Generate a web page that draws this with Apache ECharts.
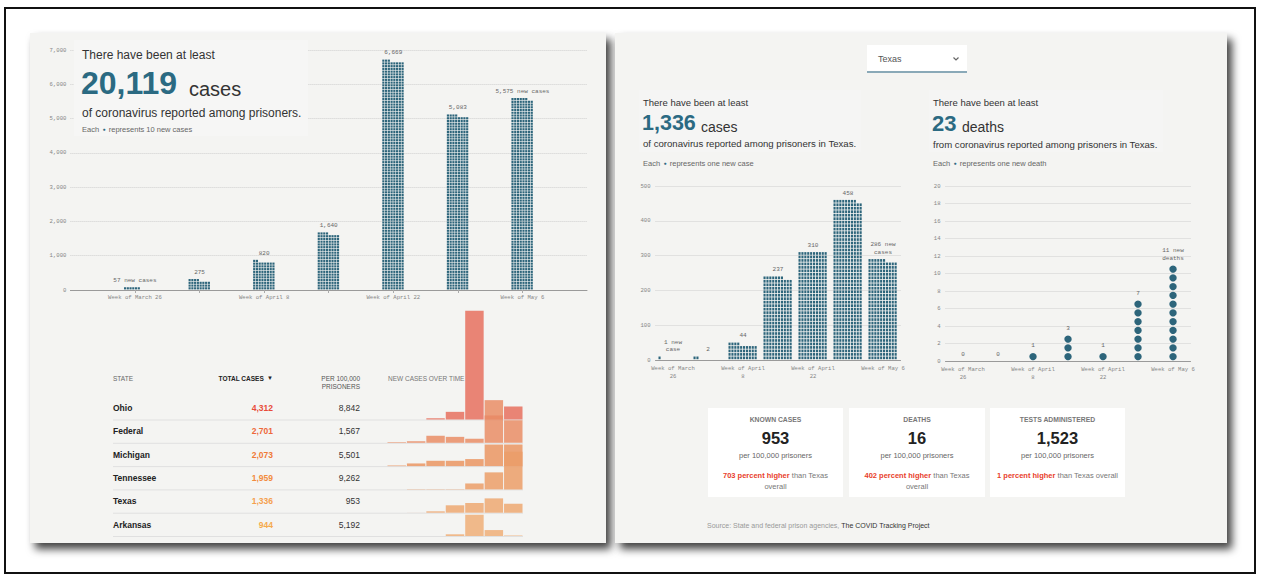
<!DOCTYPE html>
<html><head><meta charset="utf-8">
<script src="https://cdn.jsdelivr.net/npm/echarts@6/dist/echarts.min.js"></script>
<style>html,body{margin:0;padding:0;background:#fff;}#c{width:1261px;height:579px;}</style>
</head><body><div id="c"></div>
<script>
// ---------------- DATA ----------------
const weeks = ['Week of March 26','Week of April 1','Week of April 8','Week of April 15','Week of April 22','Week of April 29','Week of May 6'];
const weekLabelsWrapped = ['Week of March\n26','','Week of April\n8','','Week of April\n22','','Week of May 6'];
const usCases = [57, 275, 820, 1640, 6669, 5083, 5575];          // each dot = 10 cases
const txCases = [1, 2, 44, 237, 310, 458, 286];                  // each dot = 1 case
const txDeaths = [0, 0, 1, 3, 1, 7, 11];                         // each dot = 1 death

const states   = ['Ohio','Federal','Michigan','Tennessee','Texas','Arkansas'];
const totals   = [4312, 2701, 2073, 1959, 1336, 944];
const per100k  = [8842, 1567, 5501, 9262, 953, 5192];
const ohioNew      = [0, 0, 40, 245, 3480, 130, 415];
const federalNew   = [20, 50, 225, 190, 130, 1365, 725];
const michiganNew  = [20, 85, 170, 170, 225, 690, 690];
const tennesseeNew = [0, 10, 10, 10, 190, 545, 1205];
const texasNew     = [1, 2, 44, 237, 310, 458, 286];
const arkansasNew  = [0, 0, 0, 55, 680, 190, 19];

const cardTitles = ['KNOWN CASES','DEATHS','TESTS ADMINISTERED'];
const cardRates  = ['953','16','1,523'];
const cardPct    = ['703 percent higher','402 percent higher','1 percent higher'];
const cardTail   = [' than Texas',' than Texas',' than Texas overall'];
const cardTail2  = ['overall','overall',''];

// ---------------- STYLE ----------------
const SANS = '"Liberation Sans", Arial, Helvetica, sans-serif';
const MONO = '"Liberation Mono", "DejaVu Sans Mono", monospace';
const TEAL = '#2b6a82';
const DOT = '#2d657b';
const fmt = v => v.toLocaleString('en-US');
const axLab = {color:'#858585', fontFamily: MONO, fontSize: 5.6};
const totalColors = ['#e84b3a','#ee683a','#f07a36','#f28b3e','#f4a04f','#f5aa4c'];
const sparkColors = ['#e6705f','#e98d66','#ea9563','#eb9d69','#eda872','#eeae78'];
const stateNew = [ohioNew, federalNew, michiganNew, tennesseeNew, texasNew, arkansasNew];

function waffle(unit, cols, colW, gap, labelFn) {
  return function (params, api) {
    const idx = api.value(0), v = api.value(1);
    const n = Math.round(v / unit);
    const c = api.coord([idx, 0]);
    const rowH = api.size([0, unit * cols])[1];
    const left = c[0] - cols * colW / 2;
    const children = [];
    for (let k = 0; k < n; k++) {
      const r = Math.floor(k / cols), col = k % cols;
      children.push({type:'rect', shape:{x:left + col * colW, y:c[1] - (r + 1) * rowH, width:colW - gap, height:rowH - gap}, style:{fill:DOT}});
    }
    const top = c[1] - Math.ceil(n / cols) * rowH;
    children.push({type:'text', x:c[0], y:top - 3, style:{text:labelFn(params.dataIndex, v), fill:'#666', fontFamily:MONO, fontSize:6, align:'center', verticalAlign:'bottom', lineHeight:7.5}});
    return {type:'group', children};
  };
}
function deathDots(params, api) {
  const idx = api.value(0), v = api.value(1);
  const children = [];
  for (let j = 0; j < v; j++) {
    const p = api.coord([idx, j + 0.5]);
    children.push({type:'circle', shape:{cx:p[0], cy:p[1], r:3.7}, style:{fill:DOT}});
  }
  const top = api.coord([idx, v])[1];
  const last = params.dataIndex === txDeaths.length - 1;
  children.push({type:'text', x:api.coord([idx, 0])[0], y:top - 3, style:{text: last ? v + ' new\ndeaths' : String(v), fill:'#666', fontFamily:MONO, fontSize:6, align:'center', verticalAlign:'bottom', lineHeight:7.5}});
  return {type:'group', children};
}

// ---------------- GRIDS / AXES ----------------
const rowBase = k => 419.5 + k * 23.3;
const grids = [
  {left:70.4, top:50, width:516.6, height:240},
  {left:655.5, top:186, width:245, height:174},
  {left:945.5, top:186, width:245, height:175}
];
const xAxes = [
  {type:'category', gridIndex:0, data:['', ...weeks, ''], boundaryGap:false,
   axisLine:{lineStyle:{color:'#9a9a9a'}},
   axisTick:{interval:(i) => i > 0 && i < weeks.length + 1, length:3, lineStyle:{color:'#aaa'}},
   axisLabel:Object.assign({interval:(i) => i > 0 && i < weeks.length + 1 && (i - 1) % 2 === 0, margin:4}, axLab)},
  {type:'category', gridIndex:1, data:weeks,
   axisLine:{lineStyle:{color:'#9a9a9a'}},
   axisTick:{alignWithLabel:true, interval:0, length:3, lineStyle:{color:'#aaa'}},
   axisLabel:Object.assign({interval:0, margin:4, lineHeight:8, formatter:(v, i) => weekLabelsWrapped[i]}, axLab)},
  {type:'category', gridIndex:2, data:weeks,
   axisLine:{lineStyle:{color:'#9a9a9a'}},
   axisTick:{alignWithLabel:true, interval:0, length:3, lineStyle:{color:'#aaa'}},
   axisLabel:Object.assign({interval:0, margin:4, lineHeight:8, formatter:(v, i) => weekLabelsWrapped[i]}, axLab)}
];
const split = {lineStyle:{type:'dotted', color:'#cfcfcf'}};
const yAxes = [
  {type:'value', gridIndex:0, min:0, max:7000, interval:1000, axisLine:{show:false}, axisTick:{show:false}, splitLine:split, axisLabel:Object.assign({margin:4, formatter:v => fmt(v)}, axLab)},
  {type:'value', gridIndex:1, min:0, max:500, interval:100, axisLine:{show:false}, axisTick:{show:false}, splitLine:split, axisLabel:Object.assign({margin:5}, axLab)},
  {type:'value', gridIndex:2, min:0, max:20, interval:2, axisLine:{show:false}, axisTick:{show:false}, splitLine:split, axisLabel:Object.assign({margin:5}, axLab)}
];
const series = [
  {type:'custom', xAxisIndex:0, yAxisIndex:0, silent:true, data:usCases.map((v, i) => [i + 1, v]),
   renderItem:waffle(10, 8, 2.75, 0.6, (i, v) => (i === 0 || i === usCases.length - 1) ? fmt(v) + ' new cases' : fmt(v))},
  {type:'custom', xAxisIndex:1, yAxisIndex:1, silent:true, data:txCases.map((v, i) => [i, v]),
   renderItem:waffle(1, 10, 2.9, 0.8, (i, v) => i === 0 ? v + ' new\n' + (v === 1 ? 'case' : 'cases') : (i === txCases.length - 1 ? fmt(v) + ' new\ncases' : fmt(v)))},
  {type:'custom', xAxisIndex:2, yAxisIndex:2, silent:true, data:txDeaths.map((v, i) => [i, v]), renderItem:deathDots}
];
states.forEach((s, k) => {
  const gi = 3 + k;
  grids.push({left:387, top:rowBase(k) - 20, width:136, height:20});
  xAxes.push({type:'category', gridIndex:gi, data:weeks, show:false});
  yAxes.push({type:'value', gridIndex:gi, min:0, max:640, show:false});
  series.push({type:'bar', name:s, xAxisIndex:gi, yAxisIndex:gi, data:stateNew[k], barCategoryGap:'5%', clip:false, silent:true, z:3 + k,
    itemStyle:{color:sparkColors[k], opacity:0.85}});
});

// ---------------- GRAPHIC (panels, text, table) ----------------
function T(x, y, text, o) {
  return {type:'text', x, y, z:100, silent:true, style:Object.assign({text, fill:'#333', fontFamily:SANS, fontSize:12, verticalAlign:'middle', align:'left'}, o || {})};
}
const g = [];
g.push({type:'rect', z:-20, silent:true, shape:{x:5, y:8, width:1250, height:565}, style:{fill:'#fff', stroke:'#111', lineWidth:2}});
const panelStyle = {fill:'#f4f4f2', shadowBlur:8, shadowOffsetX:5, shadowOffsetY:6, shadowColor:'rgba(0,0,0,0.75)'};
g.push({type:'rect', z:-10, silent:true, shape:{x:30, y:33, width:576, height:510}, style:panelStyle});
g.push({type:'rect', z:-10, silent:true, shape:{x:615, y:33, width:612, height:510}, style:panelStyle});
// title boxes (very subtle)
g.push({type:'rect', z:5, silent:true, shape:{x:74, y:40, width:234, height:96}, style:{fill:'#f6f6f5'}});
g.push({type:'rect', z:5, silent:true, shape:{x:639, y:90, width:222, height:62}, style:{fill:'#f5f5f4'}});
g.push({type:'rect', z:5, silent:true, shape:{x:929, y:90, width:234, height:62}, style:{fill:'#f5f5f4'}});

// left title
g.push(T(82, 55, 'There have been at least', {fontSize:12}));
g.push(T(81, 83, '20,119', {fontSize:32, fontWeight:'bold', fill:TEAL}));
g.push(T(189, 89, 'cases', {fontSize:20, fill:'#333'}));
g.push(T(82, 113, 'of coronavirus reported among prisoners.', {fontSize:12}));
g.push(T(82, 129, '{a|Each} {d|●} {a|represents 10 new cases}', {rich:{a:{fontSize:7.5, fill:'#666', fontFamily:SANS}, d:{fontSize:5, fill:TEAL}}}));

// dropdown
g.push({type:'rect', z:10, silent:true, shape:{x:867, y:45, width:100, height:27}, style:{fill:'#fff'}});
g.push({type:'line', z:11, silent:true, shape:{x1:867, y1:72, x2:967, y2:72}, style:{stroke:'#8aa9b8', lineWidth:2}});
g.push(T(878, 59, 'Texas', {fontSize:9, fill:'#555'}));
g.push({type:'polyline', z:11, silent:true, shape:{points:[[953.5, 57.5], [956, 60], [958.5, 57.5]]}, style:{stroke:'#666', lineWidth:1.2, fill:null}});

// Texas cases title
g.push(T(643, 102, 'There have been at least', {fontSize:9.5}));
g.push(T(642, 123, '1,336', {fontSize:21.5, fontWeight:'bold', fill:TEAL}));
g.push(T(701, 127, 'cases', {fontSize:14}));
g.push(T(643, 143.5, 'of coronavirus reported among prisoners in Texas.', {fontSize:9.6}));
g.push(T(643, 163, '{a|Each} {d|●} {a|represents one new case}', {rich:{a:{fontSize:7.5, fill:'#666', fontFamily:SANS}, d:{fontSize:5, fill:TEAL}}}));
// deaths title
g.push(T(933, 102.5, 'There have been at least', {fontSize:9.5}));
g.push(T(932, 123, '23', {fontSize:22, fontWeight:'bold', fill:TEAL}));
g.push(T(962, 127, 'deaths', {fontSize:14}));
g.push(T(933, 144, 'from coronavirus reported among prisoners in Texas.', {fontSize:9.6}));
g.push(T(933, 163, '{a|Each} {d|●} {a|represents one new death}', {rich:{a:{fontSize:7.5, fill:'#666', fontFamily:SANS}, d:{fontSize:5, fill:TEAL}}}));

// cards
const cardX = [708, 849, 990], cardW = [135, 136, 135];
cardTitles.forEach((t, i) => {
  const cx = cardX[i] + cardW[i] / 2;
  g.push({type:'rect', z:10, silent:true, shape:{x:cardX[i], y:408, width:cardW[i], height:89}, style:{fill:'#fff'}});
  g.push(T(cx, 419.5, t, {fontSize:6.8, fontWeight:'bold', fill:'#777', align:'center'}));
  g.push(T(cx, 438, cardRates[i], {fontSize:16.5, fontWeight:'bold', fill:'#222', align:'center'}));
  g.push(T(cx, 455, 'per 100,000 prisoners', {fontSize:7.5, fill:'#666', align:'center'}));
  const txt = '{r|' + cardPct[i] + '}{g|' + cardTail[i] + '}' + (cardTail2[i] ? '\n{g|' + cardTail2[i] + '}' : '');
  g.push(T(cx, 470, txt, {align:'center', verticalAlign:'top', rich:{r:{fontSize:7.5, fontWeight:'bold', fill:'#e8402a', fontFamily:SANS, lineHeight:11}, g:{fontSize:7.5, fill:'#777', fontFamily:SANS, lineHeight:11}}}));
});
g.push(T(707, 525, '{g|Source: State and federal prison agencies, }{d|The COVID Tracking Project}', {rich:{g:{fontSize:7, fill:'#999', fontFamily:SANS}, d:{fontSize:7, fill:'#333', fontFamily:SANS}}}));

// table
g.push(T(113, 378, 'STATE', {fontSize:6.5, fill:'#666'}));
g.push(T(273, 378, '{b|TOTAL CASES} {t|▼}', {align:'right', rich:{b:{fontSize:6.5, fontWeight:'bold', fill:'#222', fontFamily:SANS}, t:{fontSize:6, fill:'#222'}}}));
g.push(T(360, 382.5, 'PER 100,000\nPRISONERS', {fontSize:6.5, fill:'#555', align:'right', lineHeight:8.5}));
g.push(T(388, 378, 'NEW CASES OVER TIME', {fontSize:6.5, fill:'#777'}));
states.forEach((s, k) => {
  const b = rowBase(k);
  g.push({type:'line', z:-5, silent:true, shape:{x1:113, y1:b + 0.5, x2:523, y2:b + 0.5}, style:{stroke:'#e0e0e0', lineWidth:1}});
  g.push(T(113, b - 11.5, s, {fontSize:8.5, fontWeight:'bold', fill:'#222'}));
  g.push(T(273, b - 11.5, fmt(totals[k]), {fontSize:8.5, fontWeight:'bold', fill:totalColors[k], align:'right'}));
  g.push(T(360, b - 11.5, fmt(per100k[k]), {fontSize:8.5, fill:'#333', align:'right'}));
});

const chart = echarts.init(document.getElementById('c'), null, {renderer:'svg'});
chart.setOption({
  animation:false,
  backgroundColor:'#ffffff',
  textStyle:{fontFamily:SANS},
  grid:grids, xAxis:xAxes, yAxis:yAxes, series:series, graphic:g
});
</script></body></html>
